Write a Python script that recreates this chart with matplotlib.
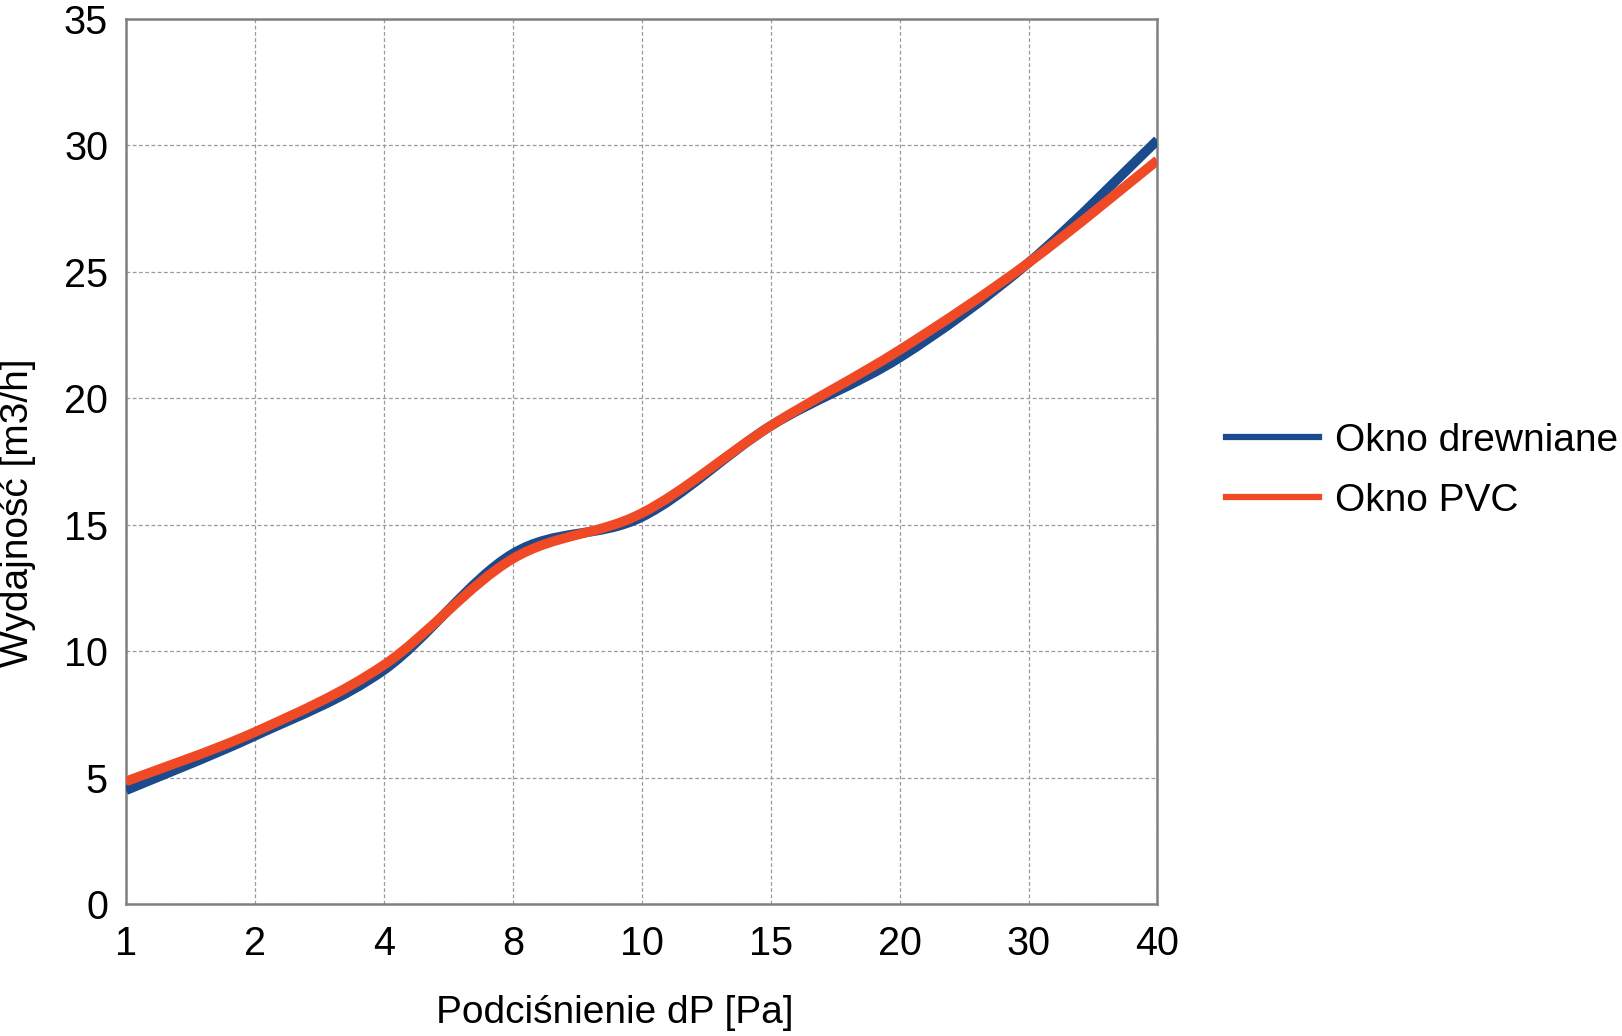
import numpy as np
import matplotlib.pyplot as plt
from matplotlib.path import Path
from matplotlib.patches import PathPatch
from matplotlib.lines import Line2D

plt.rcParams['font.family'] = ['Liberation Sans', 'DejaVu Sans']

# pressure difference categories (equally spaced on the chart)
dp_labels = ['1', '2', '4', '8', '10', '15', '20', '30', '40']
# flow values
okno_drewniane = [4.5, 6.65, 9.25, 13.85, 15.3, 18.9, 21.6, 25.35, 30.2]
okno_pvc = [4.85, 6.8, 9.45, 13.65, 15.45, 18.9, 21.9, 25.35, 29.4]

blue = '#1b4b8c'
orange = '#ef4a25'


def smooth_path(xs, ys):
    # Catmull-Rom style bezier through the data points
    pts = np.column_stack([xs, ys])
    ext = np.vstack([pts[0], pts, pts[-1]])
    verts = [tuple(pts[0])]
    codes = [Path.MOVETO]
    for i in range(1, len(ext) - 2):
        p0, p1, p2, p3 = ext[i - 1], ext[i], ext[i + 1], ext[i + 2]
        c1 = p1 + (p2 - p0) / 6.0
        c2 = p2 - (p3 - p1) / 6.0
        verts += [tuple(c1), tuple(c2), tuple(p2)]
        codes += [Path.CURVE4] * 3
    return Path(verts, codes)


fig = plt.figure(figsize=(16.22, 10.36), dpi=100)
ax = fig.add_axes([0.0777, 0.1274, 0.6359, 0.8546])

x = np.arange(len(dp_labels))
for vals, col in [(okno_drewniane, blue), (okno_pvc, orange)]:
    patch = PathPatch(smooth_path(x, vals), facecolor='none', edgecolor=col,
                      lw=7, capstyle='butt', joinstyle='round', zorder=3)
    ax.add_patch(patch)

ax.set_xlim(0, len(dp_labels) - 1)
ax.set_ylim(0, 35)
ax.set_xticks(x)
ax.set_xticklabels(dp_labels)
ax.set_yticks(np.arange(0, 36, 5))
ax.tick_params(axis='both', length=0, labelsize=28.5)
ax.tick_params(axis='y', pad=13)
ax.tick_params(axis='x', pad=15)

ax.grid(True, color='#9a9a9a', linestyle=(0, (3, 2)), linewidth=0.9)
ax.set_axisbelow(True)
for s in ax.spines.values():
    s.set_color('#808080')
    s.set_linewidth(1.8)

ax.set_xlabel('Podciśnienie dP [Pa]', fontsize=28)
ax.xaxis.set_label_coords(0.4736, -0.103)
ax.set_ylabel('Wydajność [m3/h]', fontsize=28)
ax.yaxis.set_label_coords(-0.087, 0.442)

handles = [Line2D([], [], color=blue, lw=4.5),
           Line2D([], [], color=orange, lw=4.5)]
ax.legend(handles, ['Okno drewniane', 'Okno PVC'], loc='center left',
          bbox_to_anchor=(1226 / 1622, 1 - 471 / 1036),
          bbox_transform=fig.transFigure, frameon=False, fontsize=28,
          handlelength=2.4, handletextpad=0.4, labelspacing=0.62,
          borderpad=0, borderaxespad=0)

fig.savefig('out.png', dpi=100)
